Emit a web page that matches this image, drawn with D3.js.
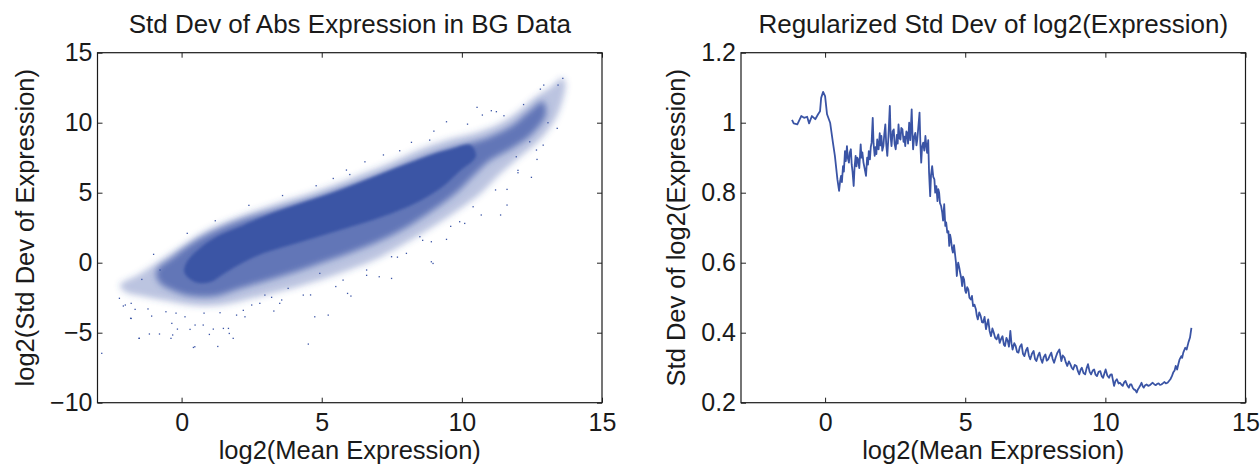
<!DOCTYPE html>
<html>
<head>
<meta charset="utf-8">
<script src="https://cdn.jsdelivr.net/npm/d3@7"></script>
<style>
  body { margin: 0; background: #fff; }
  svg { display: block; font-family: "Liberation Sans", Arial, Helvetica, sans-serif; }
  .axis text { font-size: 25px; fill: #1a1a1a; }
  .axis line { stroke: #222; }
  .axis path { display: none; }
  .title { font-size: 26px; fill: #1a1a1a; }
  .axis-label { font-size: 25.5px; fill: #1a1a1a; }
</style>
</head>
<body>
<svg id="chart"></svg>
<script>
// ---- tick values / labels
const xTicks = [0, 5, 10, 15];
const xTickLabels = ['0', '5', '10', '15'];
const leftYTicks = [-10, -5, 0, 5, 10, 15];
const leftYTickLabels = ['\u221210', '\u22125', '0', '5', '10', '15'];
const rightYTicks = [0.2, 0.4, 0.6, 0.8, 1, 1.2];
const rightYTickLabels = ['0.2', '0.4', '0.6', '0.8', '1', '1.2'];

// ---- scatter cloud (left): density zones, [x, y]
// sparse outer halo: upper edge left->right, then lower edge right->left
const haloUpper = [[-2.2,-1.6],[-1.5,-0.8],[-0.8,0.1],[-0.2,0.9],[0.4,1.7],[1.0,2.4],[1.8,3.1],[2.6,3.7],[3.5,4.3],[4.5,4.9],[5.5,5.6],[6.5,6.4],[7.5,7.2],[8.5,8.1],[9.5,8.8],[10.5,9.3],[11.3,9.9],[12.0,10.8],[12.6,11.8],[13.2,12.6],[13.6,13.2]];
const haloLower = [[13.7,12.8],[13.5,11.0],[13.2,9.8],[12.7,8.6],[12.1,7.6],[11.4,6.4],[10.7,5.0],[9.9,3.8],[9.0,2.6],[8.0,1.4],[7.0,0.3],[6.0,-0.5],[5.0,-1.2],[4.0,-1.8],[3.0,-2.3],[2.0,-2.8],[1.0,-3.1],[0.2,-3.0],[-0.6,-2.7],[-1.4,-2.4],[-2.0,-2.1]];
// medium density band
const midUpper = [[-0.9,-0.6],[-0.3,0.4],[0.3,1.3],[1.0,2.1],[1.8,2.8],[2.7,3.4],[3.7,4.0],[4.7,4.6],[5.7,5.3],[6.7,6.0],[7.7,6.8],[8.7,7.6],[9.6,8.2],[10.4,8.6],[11.0,9.0],[11.8,9.8],[12.4,10.8],[12.9,11.5]];
const midLower = [[13.0,10.6],[12.5,9.2],[11.8,8.2],[11.0,7.3],[10.4,6.2],[9.8,5.0],[9.0,3.8],[8.0,2.5],[7.0,1.5],[6.0,0.7],[5.0,0.0],[4.0,-0.7],[3.0,-1.3],[2.0,-1.9],[1.2,-2.4],[0.4,-2.4],[-0.3,-2.0],[-0.8,-1.4]];
// solid core
const coreUpper = [[0.2,0.1],[0.7,1.1],[1.3,1.9],[2.0,2.5],[2.8,3.2],[3.6,3.8],[4.5,4.4],[5.4,5.0],[6.3,5.7],[7.2,6.4],[8.1,7.1],[8.9,7.7],[9.6,8.1],[10.3,8.4]];
const coreLower = [[10.5,7.6],[9.9,6.5],[9.3,5.4],[8.5,4.4],[7.6,3.6],[6.6,2.9],[5.6,2.3],[4.6,1.7],[3.6,1.1],[2.7,0.5],[2.0,-0.2],[1.5,-0.8],[1.0,-1.4],[0.5,-1.4],[0.1,-0.7]];

// isolated points around / outside the cloud
const outlierX = [-2.85,-2.22,-2.08,-1.82,-1.66,-1.51,-1.42,-1.15,-1.07,-0.79,-0.77,-0.56,-0.35,-0.32,-0.15,0.12,0.30,0.42,0.48,0.77,0.99,1.13,1.29,1.37,1.49,1.70,1.84,1.96,2.26,2.50,2.79,2.97,3.29,3.21,3.57,3.80,-2.01,-1.80,-1.52,-0.38,0.47,1.67,4.52,4.75,5.23,4.34,6.04,7.05,7.49,8.91,9.45,10.69,11.38,11.61,11.61,12.48,12.0,12.68,13.07,13.6,13.43,12.92,10.54,10.73,11.05,11.23,9.45,8.85,7.78,6.54,5.88,5.41,9.92,10.1,8.91,8.5,8.02,7.49,6.6,5.76,4.93,11.94,12.42,12.66,5.92,8.97,
  -1.0,0.2,1.2,2.4,3.6,4.8,6.0,7.2,8.2,9.0,10.2,11.5,12.2,12.8,-1.8,-1.2,-0.2,0.8,2.2,3.5,4.6,5.5,6.6,7.7,8.6,9.6,10.4,11.2,12.0,12.9,13.4];
const outlierY = [-6.47,-2.54,-3.09,-3.97,-3.33,-5.4,-1.19,-5.09,-3.81,-5.09,-0.52,-3.5,-4.33,-5.16,-4.74,-3.86,-4.76,-6.05,-4.45,-4.45,-5.12,-4.74,-5.98,-3.57,-4.69,-5.05,-5.4,-3.74,-3.86,-3.02,-2.9,-2.31,-3.45,-2.47,-2.66,-1.83,-3.02,-3.98,-5.40,-5.40,-6.0,-4.69,-5.81,-3.86,-3.74,-2.31,-2.38,-1.0,-1.12,0.07,1.67,3.41,3.41,4.12,5.24,6.1,6.43,7.38,10.0,13.17,12.69,12.69,11.1,10.55,10.86,10.79,10.07,8.76,8.0,7.21,6.62,6.02,2.93,2.81,1.5,1.86,0.67,0.43,-0.52,-1.24,-0.76,7.57,8.64,8.05,-2.19,-0.05,
  0.6,2.1,3.0,4.1,4.8,5.5,6.3,7.7,8.6,9.4,9.9,10.5,11.3,12.4,-2.9,-3.3,-3.6,-3.6,-3.4,-2.9,-2.3,-1.7,-0.9,0.4,1.6,2.6,4.0,5.2,6.6,8.4,9.6];

// ---- regularized std dev curve (right), [x, y]
const curvePts = [
  [-1.18,1.008],[-1.12,0.998],[-0.99,0.995],[-0.85,1.019],[-0.75,1.014],[-0.64,1.017],[-0.57,0.998],[-0.47,1.019],[-0.35,1.01],[-0.25,1.024],[-0.18,1.033],[-0.14,1.071],[-0.07,1.088],[0,1.076],[0.07,1.024],[0.18,1.0],[0.28,0.943],[0.35,0.905],[0.44,0.838],
  [0.50,0.805],[0.54,0.835],[0.57,0.848],[0.60,0.830],[0.64,0.876],[0.67,0.860],[0.71,0.919],[0.74,0.890],[0.78,0.933],[0.81,0.900],[0.85,0.886],[0.88,0.915],[0.92,0.924],[0.95,0.880],[0.98,0.860],[1.02,0.819],[1.05,0.870],[1.09,0.905],[1.12,0.875],[1.15,0.900],[1.18,0.895],[1.22,0.870],[1.27,0.938],[1.30,0.900],[1.33,0.915],[1.37,0.886],[1.41,0.870],[1.46,0.848],[1.50,0.900],[1.53,0.880],[1.56,0.919],[1.60,0.895],[1.63,0.930],[1.66,0.943],[1.70,1.014],[1.73,0.940],[1.77,0.905],[1.80,0.930],[1.83,0.910],[1.86,0.952],[1.89,0.925],[1.91,0.924],[1.95,0.970],[1.98,0.935],[2.01,0.962],[2.04,0.920],[2.08,0.933],[2.11,0.965],[2.15,0.995],[2.18,0.940],[2.22,0.905],[2.26,0.960],[2.31,1.048],[2.34,0.960],[2.37,0.933],[2.41,0.975],[2.45,0.981],[2.48,0.940],[2.52,0.924],[2.56,0.965],[2.59,0.940],[2.62,0.995],[2.66,0.955],[2.69,0.952],[2.72,0.985],[2.76,0.981],[2.80,0.945],[2.83,0.960],[2.86,0.933],[2.90,0.975],[2.93,0.971],[2.96,0.940],[3.00,1.000],[3.04,0.950],[3.09,1.038],[3.12,0.960],[3.14,0.924],[3.18,0.960],[3.22,0.971],[3.26,0.935],[3.29,0.952],[3.33,0.990],[3.37,1.029],[3.40,0.940],[3.43,0.886],[3.46,0.930],[3.50,0.943],[3.54,0.920],[3.58,0.962],[3.61,0.935],[3.64,0.914],[3.68,0.950],[3.71,0.857],
  [3.75,0.790],[3.78,0.850],[3.82,0.876],[3.86,0.845],[3.90,0.838],[3.93,0.800],[3.97,0.819],[4.01,0.776],[4.04,0.810],[4.07,0.800],[4.10,0.770],[4.14,0.762],[4.18,0.743],[4.21,0.720],[4.25,0.767],[4.29,0.705],[4.32,0.715],[4.36,0.686],[4.40,0.690],[4.43,0.648],[4.46,0.680],[4.49,0.667],[4.53,0.640],[4.56,0.629],[4.60,0.650],[4.63,0.629],[4.67,0.600],[4.70,0.562],[4.73,0.590],[4.75,0.600],[4.79,0.585],[4.82,0.571],[4.86,0.555],[4.89,0.533],[4.92,0.560],[4.96,0.552],[5.00,0.520],[5.03,0.514],[5.07,0.530],[5.11,0.524],[5.15,0.500],[5.20,0.495],[5.24,0.505],[5.28,0.476],[5.33,0.480],[5.38,0.467],[5.41,0.450],[5.45,0.438],[5.50,0.458],[5.55,0.448],[5.60,0.430],[5.64,0.429],[5.69,0.445],[5.74,0.410],[5.78,0.425],[5.82,0.438],[5.87,0.405],[5.92,0.390],[5.97,0.412],[6.02,0.400],[6.07,0.385],[6.12,0.381],[6.18,0.395],[6.23,0.371],[6.28,0.382],[6.33,0.390],[6.38,0.365],[6.42,0.362],[6.47,0.385],[6.52,0.376],[6.56,0.360],[6.61,0.405],[6.65,0.370],[6.69,0.352],[6.75,0.370],[6.80,0.362],[6.85,0.345],[6.90,0.343],[6.95,0.360],[7.01,0.367],[7.06,0.340],[7.11,0.333],[7.17,0.350],[7.22,0.357],[7.27,0.335],[7.32,0.324],[7.38,0.340],[7.44,0.348],[7.49,0.325],[7.54,0.319],[7.60,0.335],[7.65,0.343],[7.70,0.325],[7.75,0.314],[7.80,0.330],[7.86,0.338],[7.91,0.320],[7.96,0.324],[8.02,0.335],[8.07,0.343],[8.12,0.325],[8.17,0.314],[8.23,0.330],[8.29,0.343],[8.36,0.352],[8.43,0.319],[8.48,0.335],[8.54,0.329],[8.59,0.315],[8.64,0.305],[8.70,0.318],[8.75,0.310],[8.80,0.300],[8.85,0.295],[8.91,0.308],[8.97,0.305],
  [9.02,0.290],[9.07,0.281],[9.12,0.295],[9.16,0.300],[9.22,0.285],[9.28,0.281],[9.33,0.298],[9.38,0.310],[9.44,0.288],[9.49,0.281],[9.55,0.292],[9.60,0.295],[9.65,0.280],[9.70,0.276],[9.76,0.288],[9.82,0.290],[9.87,0.276],[9.92,0.271],[9.97,0.285],[10.01,0.295],[10.07,0.278],[10.13,0.271],[10.18,0.280],[10.23,0.281],[10.31,0.248],[10.36,0.262],[10.41,0.267],[10.47,0.255],[10.52,0.257],[10.57,0.252],[10.62,0.248],[10.67,0.258],[10.72,0.262],[10.78,0.250],[10.84,0.243],[10.88,0.252],[10.93,0.252],[10.98,0.242],[11.02,0.238],[11.07,0.236],[11.12,0.229],[11.16,0.238],[11.20,0.243],[11.25,0.250],[11.29,0.257],[11.33,0.248],[11.37,0.243],[11.42,0.250],[11.47,0.252],[11.53,0.248],[11.59,0.250],[11.64,0.254],[11.69,0.257],[11.75,0.252],[11.80,0.250],[11.85,0.254],[11.90,0.255],[11.95,0.251],[12.00,0.252],[12.06,0.256],[12.11,0.259],[12.16,0.255],[12.22,0.257],[12.27,0.262],[12.32,0.267],[12.37,0.275],[12.42,0.286],[12.47,0.292],[12.51,0.305],[12.56,0.295],[12.61,0.312],[12.65,0.324],[12.71,0.333],[12.74,0.328],[12.78,0.343],[12.85,0.357],[12.90,0.352],[12.96,0.371],[13.02,0.386],[13.07,0.414]
];

const BLUE = '#3a54a5';
const W = 1260, H = 465;

const svg = d3.select('#chart').attr('width', W).attr('height', H);

// soft edges for the density zones so they fade like a point cloud
const defs = svg.append('defs');
defs.append('filter').attr('id', 'soft')
  .attr('x', '-10%').attr('y', '-10%').attr('width', '120%').attr('height', '120%')
  .append('feGaussianBlur').attr('stdDeviation', 3);
defs.append('filter').attr('id', 'softer')
  .attr('x', '-10%').attr('y', '-10%').attr('width', '120%').attr('height', '120%')
  .append('feGaussianBlur').attr('stdDeviation', 1.5);

// shared panel frame (MATLAB-style box with inward ticks on all sides)
function drawFrame(g, x, y, yTicks, yLabels) {
  const w = x.range()[1] - x.range()[0];
  const h = y.range()[0] - y.range()[1];
  g.append('g').attr('class', 'axis').attr('transform', `translate(0,${h})`)
    .call(d3.axisBottom(x).tickValues(xTicks).tickSize(-5).tickPadding(11)
      .tickFormat((d, i) => xTickLabels[i]));
  g.append('g').attr('class', 'axis')
    .call(d3.axisTop(x).tickValues(xTicks).tickSize(-5).tickFormat(''));
  g.append('g').attr('class', 'axis')
    .call(d3.axisLeft(y).tickValues(yTicks).tickSize(-5).tickPadding(5)
      .tickFormat((d, i) => yLabels[i]));
  g.append('g').attr('class', 'axis').attr('transform', `translate(${w},0)`)
    .call(d3.axisRight(y).tickValues(yTicks).tickSize(-5).tickFormat(''));
  g.append('rect')
    .attr('width', w).attr('height', h)
    .attr('fill', 'none').attr('stroke', '#1a1a1a').attr('stroke-width', 1.2);
}

// ---------- left panel: scatter ----------
const L = { left: 97.5, top: 52.7, width: 504.5, height: 350 };
const xL = d3.scaleLinear().domain([-3, 15]).range([0, L.width]);
const yL = d3.scaleLinear().domain([-10, 15]).range([L.height, 0]);
const gL = svg.append('g').attr('transform', `translate(${L.left},${L.top})`);

gL.append('clipPath').attr('id', 'clipL')
  .append('rect').attr('width', L.width).attr('height', L.height);
const cloud = gL.append('g').attr('clip-path', 'url(#clipL)');

const zone = d3.line().x(d => xL(d[0])).y(d => yL(d[1])).curve(d3.curveCatmullRomClosed);
[[haloUpper, haloLower, 0.35, 'soft'], [midUpper, midLower, 0.7, 'soft'], [coreUpper, coreLower, 1, 'softer']]
  .forEach(([up, lo, op, f]) => {
    cloud.append('path')
      .attr('d', zone(up.concat(lo)))
      .attr('fill', BLUE).attr('fill-opacity', op)
      .attr('filter', `url(#${f})`);
  });

cloud.selectAll('.pt')
  .data(outlierX.map((v, i) => ({ x: v, y: outlierY[i] })))
  .enter().append('rect')
  .attr('class', 'pt')
  .attr('x', d => xL(d.x) - 0.6).attr('y', d => yL(d.y) - 0.6)
  .attr('width', 1.3).attr('height', 1.3)
  .attr('fill', BLUE);

drawFrame(gL, xL, yL, leftYTicks, leftYTickLabels);

svg.append('text').attr('class', 'title').attr('text-anchor', 'middle')
  .attr('x', L.left + L.width / 2).attr('y', 33)
  .text('Std Dev of Abs Expression in BG Data');
svg.append('text').attr('class', 'axis-label').attr('text-anchor', 'middle')
  .attr('x', L.left + L.width / 2).attr('y', 459)
  .text('log2(Mean Expression)');
svg.append('text').attr('class', 'axis-label').attr('text-anchor', 'middle')
  .attr('transform', `translate(34,${L.top + L.height / 2}) rotate(-90)`)
  .text('log2(Std Dev of Expression)');

// ---------- right panel: line ----------
const R = { left: 741, top: 52.7, width: 504.5, height: 350 };
const xR = d3.scaleLinear().domain([-3, 15]).range([0, R.width]);
const yR = d3.scaleLinear().domain([0.2, 1.2]).range([R.height, 0]);
const gR = svg.append('g').attr('transform', `translate(${R.left},${R.top})`);

gR.append('path')
  .datum(curvePts)
  .attr('d', d3.line().x(d => xR(d[0])).y(d => yR(d[1])))
  .attr('fill', 'none').attr('stroke', BLUE).attr('stroke-width', 1.8)
  .attr('stroke-linejoin', 'round');

drawFrame(gR, xR, yR, rightYTicks, rightYTickLabels);

svg.append('text').attr('class', 'title').attr('text-anchor', 'middle')
  .attr('x', R.left + R.width / 2).attr('y', 33)
  .text('Regularized Std Dev of log2(Expression)');
svg.append('text').attr('class', 'axis-label').attr('text-anchor', 'middle')
  .attr('x', R.left + R.width / 2).attr('y', 459)
  .text('log2(Mean Expression)');
svg.append('text').attr('class', 'axis-label').attr('text-anchor', 'middle')
  .attr('transform', `translate(685,${R.top + R.height / 2}) rotate(-90)`)
  .text('Std Dev of log2(Expression)');
</script>
</body>
</html>
